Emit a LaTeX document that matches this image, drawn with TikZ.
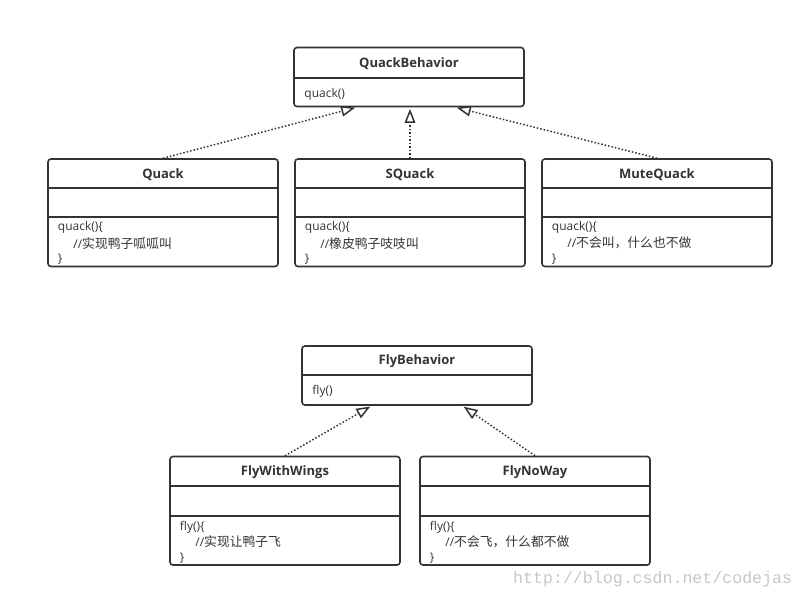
\documentclass[tikz,border=0pt]{standalone}
\usepackage{fontspec}
\setmainfont{Open Sans}
\newfontfamily\cjk{Noto Sans CJK SC}
\newfontfamily\wmfont{Liberation Mono}
\usetikzlibrary{arrows.meta,calc}
\definecolor{ink}{HTML}{333333}
\begin{document}
\begin{tikzpicture}[x=1pt,y=-1pt,
  box/.style={draw=ink, line width=1.6pt, rounded corners=3pt, minimum width=230pt, inner sep=0pt},
  ttl/.style={font=\fontsize{13}{15}\selectfont\bfseries, text=ink, inner sep=0pt},
  txt/.style={font=\fontsize{12}{15}\selectfont, text=ink, anchor=west, inner sep=0pt},
  real/.style={draw=ink, line width=1.5pt, dash pattern=on 1.5pt off 2pt, shorten >=1.5pt, -{Triangle[open,length=14pt,width=10.5pt,line width=1.5pt]}},
  div/.style={draw=ink, line width=1.6pt}]
\useasboundingbox (0,0) rectangle (804,597);

% ---------- QuackBehavior ----------
\node[box, minimum height=59pt] (qbeh) at (409,77) {};
\draw[div] ($(qbeh.north west)+(0,31)$) -- ($(qbeh.north east)+(0,31)$);
\node[ttl] (qbeh-t) at ($(qbeh.north)+(0,16.5)$) {QuackBehavior};
\node[txt] (qbeh-m) at ($(qbeh.north west)+(11,47.5)$) {quack()};

% ---------- three quack classes ----------
\foreach \nm/\cx/\title/\cmt in {quack/163/Quack/实现鸭子呱呱叫, squack/410/SQuack/橡皮鸭子吱吱叫, mute/657/MuteQuack/不会叫，什么也不做}{
  \node[box, minimum height=107.5pt] (\nm) at (\cx,212.75) {};
  \draw[div] ($(\nm.north west)+(0,30)$) -- ($(\nm.north east)+(0,30)$);
  \draw[div] ($(\nm.north west)+(0,59)$) -- ($(\nm.north east)+(0,59)$);
  \node[ttl] (\nm-t) at ($(\nm.north)+(0,16)$) {\title};
  \node[txt] (\nm-a) at ($(\nm.north west)+(10.5,69.5)$) {quack()\{};
  \node[txt] (\nm-b) at ($(\nm.north west)+(26,85)$) {//{\cjk\fontsize{12.8}{15}\selectfont\cmt}};
  \node[txt] (\nm-c) at ($(\nm.north west)+(10.5,101)$) {\}};
}

\draw[real] (quack.north) -- ($(qbeh.south west)!0.274!(qbeh.south east)$);
\draw[real] (squack.north) -- (qbeh.south -| squack.north);
\draw[real] (mute.north) -- ($(qbeh.south west)!0.70!(qbeh.south east)$);

% ---------- FlyBehavior ----------
\node[box, minimum height=59pt] (fbeh) at (417,375.5) {};
\draw[div] ($(fbeh.north west)+(0,29.5)$) -- ($(fbeh.north east)+(0,29.5)$);
\node[ttl] (fbeh-t) at ($(fbeh.north)+(0,16)$) {FlyBehavior};
\node[txt] (fbeh-m) at ($(fbeh.north west)+(11,46.5)$) {fly()};

\foreach \nm/\cx/\title/\cmt in {fww/285/FlyWithWings/实现让鸭子飞, fnw/535/FlyNoWay/不会飞，什么都不做}{
  \node[box, minimum height=108.5pt] (\nm) at (\cx,510.75) {};
  \draw[div] ($(\nm.north west)+(0,30)$) -- ($(\nm.north east)+(0,30)$);
  \draw[div] ($(\nm.north west)+(0,60)$) -- ($(\nm.north east)+(0,60)$);
  \node[ttl] (\nm-t) at ($(\nm.north)+(0,16)$) {\title};
  \node[txt] (\nm-a) at ($(\nm.north west)+(10.5,71.5)$) {fly()\{};
  \node[txt] (\nm-b) at ($(\nm.north west)+(26,86)$) {//{\cjk\fontsize{12.8}{15}\selectfont\cmt}};
  \node[txt] (\nm-c) at ($(\nm.north west)+(10.5,102)$) {\}};
}

\draw[real] (fww.north) -- ($(fbeh.south west)!0.304!(fbeh.south east)$);
\draw[real] (fnw.north) -- ($(fbeh.south west)!0.696!(fbeh.south east)$);

% ---------- watermark ----------
\node[anchor=base west, inner sep=0pt, text=black!22, font=\wmfont\fontsize{16.6}{18}\selectfont] (wm) at (513,583) {http://blog.csdn.net/codejas};
\end{tikzpicture}
\end{document}
